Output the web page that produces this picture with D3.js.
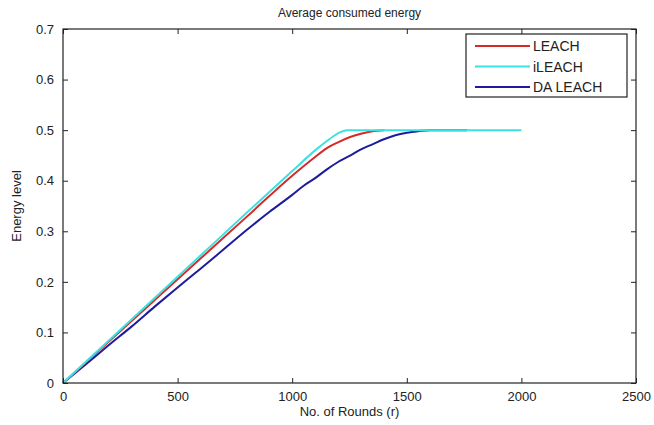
<!DOCTYPE html>
<html>
<head>
<meta charset="utf-8">
<script src="https://d3js.org/d3.v7.min.js"></script>
<style>
  body { margin: 0; background: #fff; }
  text { font-family: "Liberation Sans", Arial, sans-serif; fill: #222; }
</style>
</head>
<body>
<div class="chart"></div>
<script>
var svgWidth = 654;
var svgHeight = 425;

var margin = { top: 29, right: 18, bottom: 42, left: 63 };
var width = svgWidth - margin.left - margin.right;
var height = svgHeight - margin.top - margin.bottom;

// series data
var leachRounds = [0, 200, 400, 600, 800, 1000, 1100, 1150, 1200, 1250, 1300, 1350, 1400];
var leachEnergy = [0, 0.082, 0.164, 0.246, 0.328, 0.410, 0.447, 0.464, 0.476, 0.486, 0.493, 0.498, 0.5];

var ileachRounds = [0, 200, 400, 600, 800, 1000, 1100, 1150, 1180, 1210, 1240, 1300, 1600, 2000];
var ileachEnergy = [0, 0.084, 0.168, 0.252, 0.336, 0.419, 0.460, 0.478, 0.488, 0.496, 0.5, 0.5, 0.5, 0.5];

var daRounds = [0, 100, 200, 300, 400, 500, 600, 700, 800, 900, 1000, 1050, 1100, 1150, 1200, 1250, 1300, 1350, 1400, 1450, 1500, 1550, 1600, 1700, 1763];
var daEnergy = [0, 0.037, 0.075, 0.112, 0.151, 0.189, 0.226, 0.264, 0.302, 0.338, 0.372, 0.390, 0.405, 0.422, 0.437, 0.449, 0.462, 0.472, 0.482, 0.490, 0.495, 0.498, 0.5, 0.5, 0.5];

var seriesNames = ["LEACH", "iLEACH", "DA LEACH"];
var seriesColors = ["#d42a2a", "#3fe0e0", "#1c1c9c"];

var xTicks = [0, 500, 1000, 1500, 2000, 2500];
var yTicks = [0, 0.1, 0.2, 0.3, 0.4, 0.5, 0.6, 0.7];

var series = [
  { name: seriesNames[0], color: seriesColors[0], values: leachRounds.map(function(r, i) { return [r, leachEnergy[i]]; }) },
  { name: seriesNames[1], color: seriesColors[1], values: ileachRounds.map(function(r, i) { return [r, ileachEnergy[i]]; }) },
  { name: seriesNames[2], color: seriesColors[2], values: daRounds.map(function(r, i) { return [r, daEnergy[i]]; }) }
];

var svg = d3.select(".chart")
  .append("svg")
  .attr("width", svgWidth)
  .attr("height", svgHeight);

var chartGroup = svg.append("g")
  .attr("transform", `translate(${margin.left}, ${margin.top})`);

var x = d3.scaleLinear().domain([0, 2500]).range([0, width]);
var y = d3.scaleLinear().domain([0, 0.7]).range([height, 0]);

// lines
var line = d3.line()
  .x(function(d) { return x(d[0]); })
  .y(function(d) { return y(d[1]); })
  .curve(d3.curveMonotoneX);

// draw DA LEACH first, then LEACH, then iLEACH on top like the picture
[2, 0, 1].forEach(function(k) {
  chartGroup.append("path")
    .datum(series[k].values)
    .attr("fill", "none")
    .attr("stroke", series[k].color)
    .attr("stroke-width", 2)
    .attr("d", line);
});

// axes, matlab style ticks pointing in
function styleAxis(g) {
  g.select(".domain").remove();
  g.selectAll("line").attr("stroke", "#222");
  g.selectAll("text").style("font-size", "13px").style("fill", "#222");
}

chartGroup.append("g")
  .attr("transform", `translate(0, ${height})`)
  .call(d3.axisBottom(x).tickValues(xTicks).tickSizeInner(-5).tickSizeOuter(0).tickPadding(9).tickFormat(d3.format("d")))
  .call(styleAxis);

chartGroup.append("g")
  .call(d3.axisTop(x).tickValues(xTicks).tickSizeInner(-5).tickSizeOuter(0).tickFormat(""))
  .call(styleAxis);

chartGroup.append("g")
  .call(d3.axisLeft(y).tickValues(yTicks).tickSizeInner(-5).tickSizeOuter(0).tickPadding(9).tickFormat(function(d) { return d === 0 ? "0" : d3.format(".1f")(d); }))
  .call(styleAxis);

chartGroup.append("g")
  .attr("transform", `translate(${width}, 0)`)
  .call(d3.axisRight(y).tickValues(yTicks).tickSizeInner(-5).tickSizeOuter(0).tickFormat(""))
  .call(styleAxis);

// frame
chartGroup.append("rect")
  .attr("width", width)
  .attr("height", height)
  .attr("fill", "none")
  .attr("stroke", "#222")
  .attr("stroke-width", 1.2);

// title and labels
svg.append("text")
  .attr("x", margin.left + width / 2)
  .attr("y", 17)
  .attr("text-anchor", "middle")
  .style("font-size", "12px")
  .text("Average consumed energy");

svg.append("text")
  .attr("x", margin.left + width / 2)
  .attr("y", 416)
  .attr("text-anchor", "middle")
  .style("font-size", "13px")
  .text("No. of Rounds (r)");

svg.append("text")
  .attr("transform", `translate(21, ${margin.top + height / 2}) rotate(-90)`)
  .attr("text-anchor", "middle")
  .style("font-size", "13px")
  .text("Energy level");

// legend
var legend = chartGroup.append("g")
  .attr("transform", `translate(${466 - margin.left}, ${34 - margin.top})`);

legend.append("rect")
  .attr("width", 161)
  .attr("height", 63)
  .attr("fill", "#fff")
  .attr("stroke", "#222")
  .attr("stroke-width", 1.2);

series.forEach(function(s, i) {
  var row = legend.append("g").attr("transform", `translate(0, ${12 + i * 20.5})`);
  row.append("line")
    .attr("x1", 9).attr("x2", 64)
    .attr("stroke", s.color)
    .attr("stroke-width", 2);
  row.append("text")
    .attr("x", 67)
    .attr("y", 5)
    .style("font-size", "14px")
    .text(s.name);
});
</script>
</body>
</html>
